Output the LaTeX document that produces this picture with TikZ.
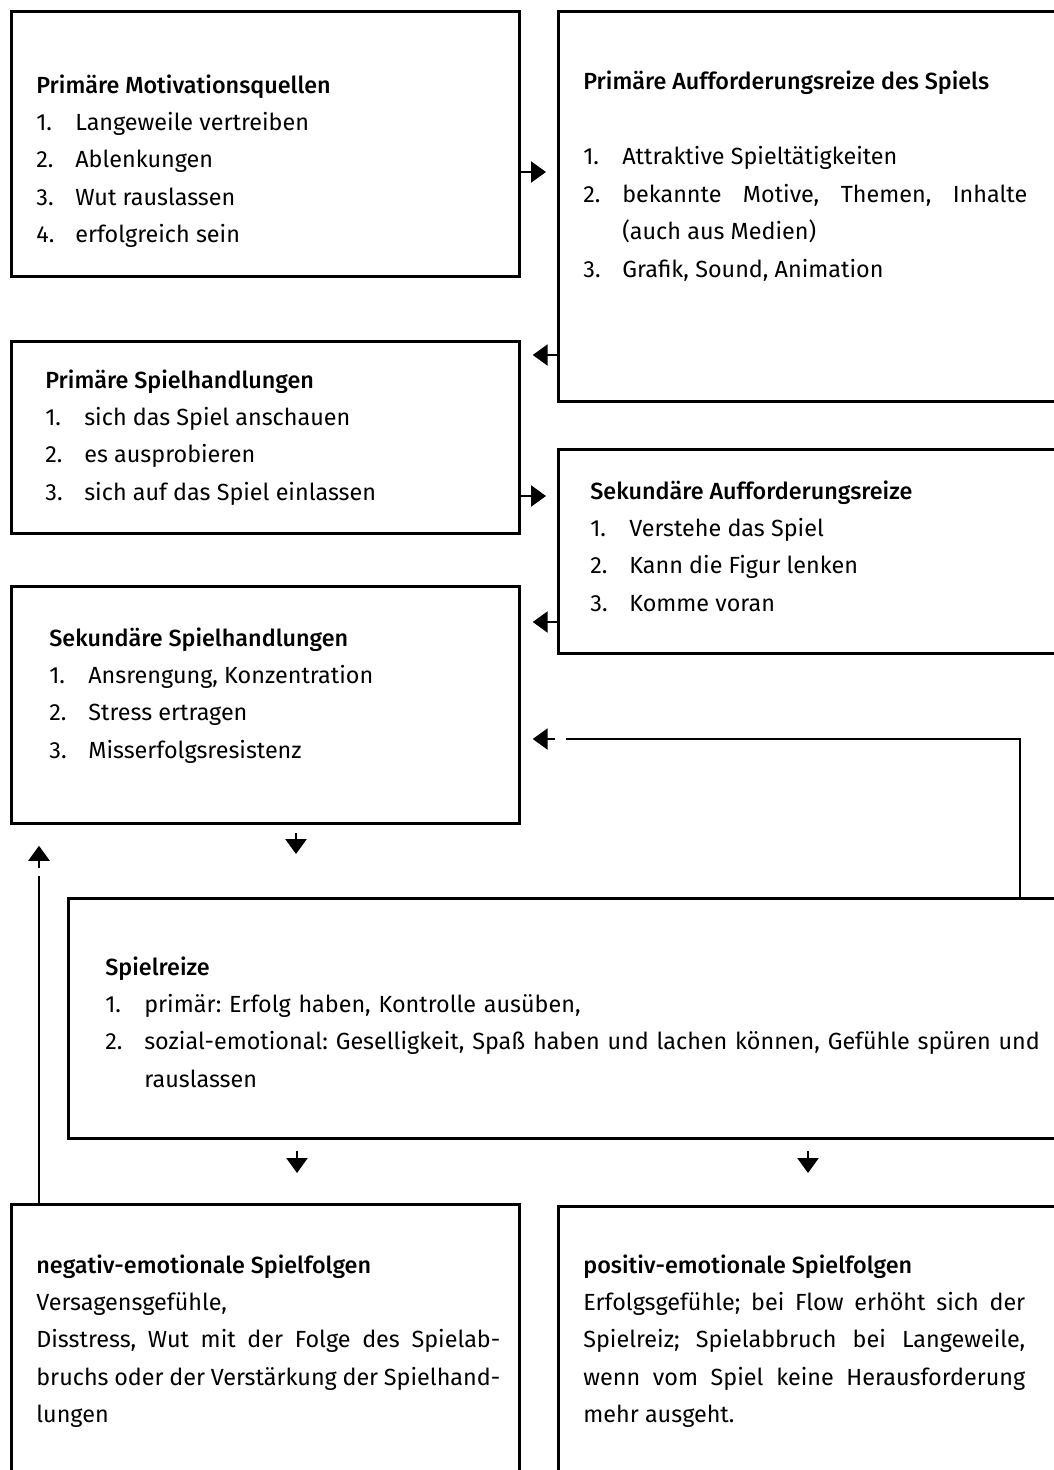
\documentclass[tikz,border=0pt]{standalone}
\usepackage{fontspec}
\setmainfont{Fira Sans}
\newfontfamily\titlefont[UprightFont={* Medium}]{Fira Sans}
\usetikzlibrary{arrows.meta}
\frenchspacing

% one numbered line with hanging indent
\newcommand{\entry}[2]{\par\hangindent=0.78cm\hangafter=1\noindent\makebox[0.78cm][l]{#1}#2\par}

\begin{document}
\begin{tikzpicture}
		[x=0.02cm,y=-0.02cm,
		%Styles
		box/.style={draw,rectangle,line width=1.6pt,inner sep=0pt,anchor=north west},
		boxtext/.style={anchor=base west,inner sep=0pt,text width=#1,align=justify,
			font=\fontsize{13.3pt}{21.3pt}\selectfont\frenchspacing},
		connector/.style={line width=1.4pt},
		arrow/.style={connector,-{Triangle[length=0.3cm,width=0.42cm]}}
		]
		
		\useasboundingbox (0,0) rectangle (1054,1470);
		\clip (0,0) rectangle (1054,1470);
		
		%The boxes
		\node[box,minimum width=10.16cm,minimum height=5.3cm] (A) at (10,10) {};
		\node[box,minimum width=10.4cm,minimum height=7.8cm] (B) at (557,10) {};
		\node[box,minimum width=10.16cm,minimum height=3.84cm] (C) at (10,340) {};
		\node[box,minimum width=10.4cm,minimum height=4.08cm] (D) at (557,448) {};
		\node[box,minimum width=10.16cm,minimum height=4.74cm] (E) at (10,585) {};
		\node[box,minimum width=20.2cm,minimum height=4.8cm] (F) at (67,897) {};
		\node[box,minimum width=10.16cm,minimum height=6cm] (G) at (10,1203) {};
		\node[box,minimum width=10.4cm,minimum height=6cm] (H) at (557,1205) {};
		
		%The texts
		\node[boxtext=9.28cm] (A-text) at (36,93) {{\titlefont Primäre Motivationsquellen}
			\entry{1.}{Langeweile vertreiben}
			\entry{2.}{Ablenkungen}
			\entry{3.}{Wut rauslassen}
			\entry{4.}{erfolgreich sein}};
		\node[boxtext=8.88cm] (B-text) at (583,90) {{\titlefont Primäre Aufforderungsreize des Spiels}
			\par\vskip21.3pt
			\entry{1.}{Attraktive Spieltätigkeiten}
			\entry{2.}{bekannte Motive, Themen, Inhalte\linebreak (auch aus Medien)}
			\entry{3.}{Grafik, Sound, Animation}};
		\node[boxtext=9.1cm] (C-text) at (45,388) {{\titlefont Primäre Spielhandlungen}
			\entry{1.}{sich das Spiel anschauen}
			\entry{2.}{es ausprobieren}
			\entry{3.}{sich auf das Spiel einlassen}};
		\node[boxtext=8.8cm] (D-text) at (590,499) {{\titlefont Sekundäre Aufforderungsreize}
			\entry{1.}{Verstehe das Spiel}
			\entry{2.}{Kann die Figur lenken}
			\entry{3.}{Komme voran}};
		\node[boxtext=9cm] (E-text) at (49,646) {{\titlefont Sekundäre Spielhandlungen}
			\entry{1.}{Ansrengung, Konzentration}
			\entry{2.}{Stress ertragen}
			\entry{3.}{Misserfolgsresistenz}};
		\node[boxtext=19.6cm,align=left] (F-text) at (105,975) {{\titlefont Spielreize}
			\entry{1.}{primär: Erfolg haben, Kontrolle ausüben,}
			\entry{2.}{sozial-emotional: Geselligkeit, Spaß haben und lachen können, Gefühle spüren und\newline rauslassen}};
		\node[boxtext=9.28cm] (G-text) at (36,1273) {{\titlefont negativ-emotionale Spielfolgen}
			\par Versagensgefühle,
			\par Disstress, Wut mit der Folge des Spielab-\linebreak bruchs oder der Verstärkung der Spielhand-\linebreak lungen};
		\node[boxtext=8.84cm] (H-text) at (583,1273) {{\titlefont positiv-emotionale Spielfolgen}
			\par Erfolgsgefühle; bei Flow erhöht sich der\linebreak Spielreiz; Spielabbruch bei Langeweile,\linebreak wenn vom Spiel keine Herausforderung\linebreak mehr ausgeht.};
		
		%The connectors
		\coordinate (gapG) at (39,876);
		\coordinate (turnF) at (1020,739);
		\coordinate (gapF) at (566,739);
		
		\draw[arrow,shorten >=0.22cm] (A.east |- 0,172) -- (B.west |- 0,172);
		\draw[arrow,shorten >=0.24cm] (B.west |- 0,355) -- (C.east |- 0,355);
		\draw[arrow,shorten >=0.22cm] (C.east |- 0,496) -- (D.west |- 0,496);
		\draw[arrow,shorten >=0.24cm] (D.west |- 0,622) -- (E.east |- 0,622);
		\draw[arrow,shorten <=0.16cm,shorten >=0.86cm] (E.south -| 296,0) -- (F.north -| 296,0);
		\draw[arrow,shorten <=0.22cm,shorten >=0.6cm] (F.south -| 297,0) -- (G.north -| 297,0);
		\draw[arrow,shorten <=0.22cm,shorten >=0.64cm] (F.south -| 808,0) -- (H.north -| 808,0);
		
		\draw[connector] (G.north -| gapG) -- (gapG);
		\draw[arrow,shorten <=0.16cm,shorten >=0.42cm] (gapG) -- (E.south -| gapG);
		\draw[connector] (F.north -| turnF) -- (turnF) -- (gapF);
		\draw[arrow,shorten <=0.22cm,shorten >=0.24cm] (gapF) -- (E.east |- gapF);
	\end{tikzpicture}
\end{document}
